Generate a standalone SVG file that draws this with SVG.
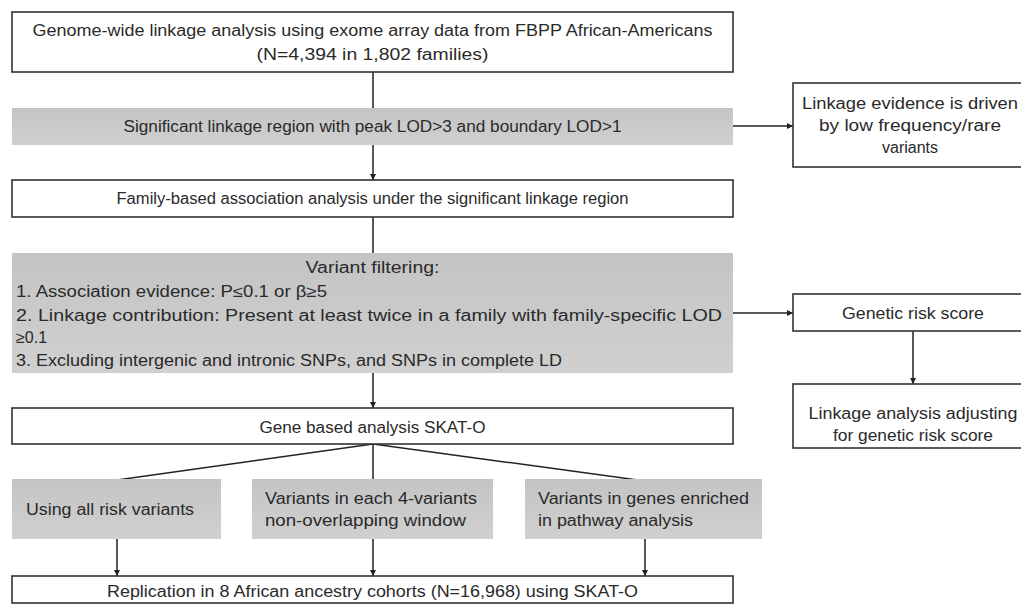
<svg xmlns="http://www.w3.org/2000/svg" width="1021" height="607" viewBox="0 0 1021 607">
<style>
.bw{fill:#ffffff;stroke:#333333;stroke-width:1.6}
.bg{fill:url(#gg);stroke:none}
text{font-family:"Liberation Sans",Arial,sans-serif;font-size:16px;fill:#2a2a2a}
.c{text-anchor:middle}
.ln{stroke:#222222;stroke-width:1.5;fill:none}
.ar{stroke:#222222;stroke-width:1.5;fill:none;marker-end:url(#ah)}
</style>
<defs>
<linearGradient id="gg" x1="0" y1="0" x2="0" y2="1">
<stop offset="0" stop-color="#c4c4c4"/>
<stop offset="1" stop-color="#d0d0d0"/>
</linearGradient>
<marker id="ah" viewBox="0 0 10 10" refX="10" refY="5" markerWidth="6" markerHeight="6" orient="auto" markerUnits="userSpaceOnUse">
<path d="M0,0 L10,5 L0,10 z" fill="#222222"/>
</marker>
</defs>
<rect width="1021" height="607" fill="#ffffff"/>
<g id="connectors">
<line class="ln" x1="373" y1="72" x2="373" y2="108"/>
<line class="ar" x1="373" y1="145" x2="373" y2="180"/>
<line class="ar" x1="733" y1="126" x2="793" y2="126"/>
<line class="ln" x1="373" y1="217" x2="373" y2="253"/>
<line class="ar" x1="733" y1="313" x2="793" y2="313"/>
<line class="ar" x1="373" y1="373" x2="373" y2="408"/>
<line class="ar" x1="913" y1="331" x2="913" y2="384"/>
<line class="ln" x1="373" y1="444" x2="117" y2="480"/>
<line class="ln" x1="373" y1="444" x2="373" y2="479"/>
<line class="ln" x1="373" y1="444" x2="645" y2="481"/>
<line class="ar" x1="117" y1="539" x2="117" y2="576"/>
<line class="ar" x1="373" y1="539" x2="373" y2="576"/>
<line class="ar" x1="645" y1="539" x2="645" y2="576"/>
</g>
<g id="n1">
<rect class="bw" x="12" y="12" width="721" height="60"/>
<text class="c" x="372.5" y="36" textLength="680" lengthAdjust="spacingAndGlyphs">Genome-wide linkage analysis using exome array data from FBPP African-Americans</text>
<text class="c" x="372.5" y="60" textLength="232" lengthAdjust="spacingAndGlyphs">(N=4,394 in 1,802 families)</text>
</g>
<g id="n2">
<rect class="bg" x="12" y="108" width="721" height="37"/>
<text class="c" x="372.5" y="132" textLength="498" lengthAdjust="spacingAndGlyphs">Significant linkage region with peak LOD&gt;3 and boundary LOD&gt;1</text>
</g>
<g id="n3">
<rect class="bw" x="12" y="180" width="721" height="37"/>
<text class="c" x="372.5" y="204" textLength="512" lengthAdjust="spacingAndGlyphs">Family-based association analysis under the significant linkage region</text>
</g>
<g id="n4">
<rect class="bg" x="12" y="253" width="721" height="120"/>
<text class="c" x="372.5" y="273" textLength="134" lengthAdjust="spacingAndGlyphs">Variant filtering:</text>
<text x="16" y="297" textLength="311" lengthAdjust="spacingAndGlyphs">1. Association evidence: P≤0.1 or β≥5</text>
<text x="16" y="321" textLength="706" lengthAdjust="spacingAndGlyphs">2. Linkage contribution: Present at least twice in a family with family-specific LOD</text>
<text x="16" y="343">≥0.1</text>
<text x="16" y="366" textLength="546" lengthAdjust="spacingAndGlyphs">3. Excluding intergenic and intronic SNPs, and SNPs in complete LD</text>
</g>
<g id="n5">
<rect class="bw" x="793" y="83" width="240" height="84"/>
<text class="c" x="910" y="109" textLength="216" lengthAdjust="spacingAndGlyphs">Linkage evidence is driven</text>
<text class="c" x="910" y="131" textLength="182" lengthAdjust="spacingAndGlyphs">by low frequency/rare</text>
<text class="c" x="910" y="153">variants</text>
</g>
<g id="n6">
<rect class="bw" x="793" y="294" width="240" height="37"/>
<text class="c" x="913" y="319" textLength="142" lengthAdjust="spacingAndGlyphs">Genetic risk score</text>
</g>
<g id="n7">
<rect class="bw" x="793" y="384" width="240" height="64"/>
<text class="c" x="913" y="419" textLength="209" lengthAdjust="spacingAndGlyphs">Linkage analysis adjusting</text>
<text class="c" x="913" y="441" textLength="160" lengthAdjust="spacingAndGlyphs">for genetic risk score</text>
</g>
<g id="n8">
<rect class="bw" x="12" y="408" width="721" height="36"/>
<text class="c" x="372.5" y="433" textLength="226" lengthAdjust="spacingAndGlyphs">Gene based analysis SKAT-O</text>
</g>
<g id="n9">
<rect class="bg" x="12" y="479" width="209" height="60"/>
<text x="26" y="515" textLength="168" lengthAdjust="spacingAndGlyphs">Using all risk variants</text>
</g>
<g id="n10">
<rect class="bg" x="252" y="479" width="241" height="60"/>
<text x="265" y="504" textLength="212" lengthAdjust="spacingAndGlyphs">Variants in each 4-variants</text>
<text x="265" y="526" textLength="201" lengthAdjust="spacingAndGlyphs">non-overlapping window</text>
</g>
<g id="n11">
<rect class="bg" x="525" y="479" width="237" height="60"/>
<text x="538" y="504" textLength="211" lengthAdjust="spacingAndGlyphs">Variants in genes enriched</text>
<text x="538" y="526" textLength="155" lengthAdjust="spacingAndGlyphs">in pathway analysis</text>
</g>
<g id="n12">
<rect class="bw" x="12" y="576" width="721" height="27"/>
<text class="c" x="372.5" y="597" textLength="531" lengthAdjust="spacingAndGlyphs">Replication in 8 African ancestry cohorts (N=16,968) using SKAT-O</text>
</g>
</svg>
